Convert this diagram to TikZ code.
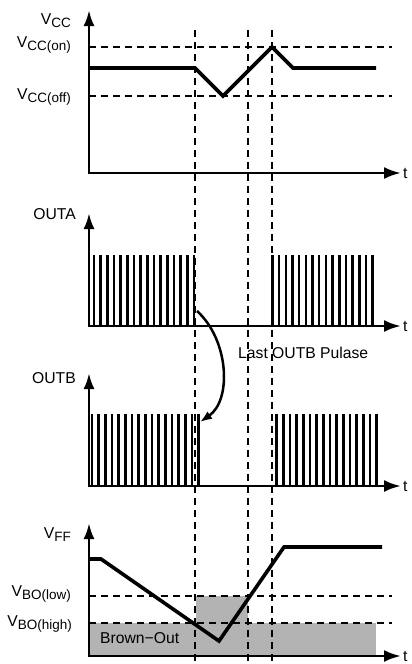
\documentclass[tikz,border=0pt]{standalone}
\usepackage{fontspec}
\setmainfont{Liberation Sans}
\usetikzlibrary{arrows.meta,positioning}
\definecolor{ink}{RGB}{0,0,0}
\definecolor{bogray}{RGB}{179,179,179}
\newcommand{\lowtext}[1]{\raisebox{-3pt}{\fontsize{13.5}{13.5}\selectfont #1}}
\tikzset{
  every picture/.style={color=ink, font=\fontsize{15.7}{18}\selectfont},
  axis/.style={{Latex[length=16pt,width=11pt]}-{Latex[length=17pt,width=12pt]}, line width=2.8pt},
  wave/.style={line width=3.6pt},
  pulse/.style={line width=2.6pt},
  guide/.style={line width=2.5pt, dash pattern=on 7pt off 5pt},
  hint/.style={-{Latex[length=12pt,width=9pt]}, line width=2.5pt},
  lbl/.style={anchor=base east, inner sep=0pt},
  tlbl/.style={anchor=west, inner sep=0pt},
  note/.style={anchor=base west, inner sep=0pt},
}
\begin{document}
\begin{tikzpicture}[x=1pt, y=-1pt]
  \useasboundingbox (0,0) rectangle (412,664);
  % brown-out area
  \fill[bogray] (89,623) rectangle (376,656);
  \fill[bogray] (196,596) rectangle (248,623);
  \node[note] (bo) at (100,643) {Brown−Out};
  % VCC
  \coordinate (o1) at (89,173); \coordinate (y1) at (89,10); \coordinate (x1) at (401,173);
  \draw[axis] (y1) -- (o1) -- (x1);
  \node[lbl] (vcc) at (71,24) {V\lowtext{CC}};
  \node[lbl] (vccon) at (71,47) {V\lowtext{CC(on)}};
  \node[lbl] (vccoff) at (71,99) {V\lowtext{CC(off)}};
  \node[tlbl] (t1) at (403,173) {t};
  \draw[guide] (89,47) -- (392,47);
  \draw[guide] (89,96) -- (392,96);
  \draw[wave] (89,68) -- (195,68) -- (223,96) -- (272,47) -- (293,68) -- (376,68);
  % OUTA
  \coordinate (o2) at (89,326); \coordinate (y2) at (89,213); \coordinate (x2) at (401,326);
  \draw[axis] (y2) -- (o2) -- (x2);
  \node[lbl] (outa) at (76,219) {OUTA};
  \node[tlbl] (t2) at (403,326) {t};
  \foreach \i in {0,...,15} {
    \draw[pulse] ({94+\i*6.67},326) -- ({94+\i*6.67},255);
    \draw[pulse] ({272.5+\i*6.67},326) -- ({272.5+\i*6.67},255);
  }
  % OUTB
  \coordinate (o3) at (89,486); \coordinate (y3) at (89,373); \coordinate (x3) at (401,486);
  \draw[axis] (y3) -- (o3) -- (x3);
  \node[lbl] (outb) at (76,383) {OUTB};
  \node[tlbl] (t3) at (403,486) {t};
  \foreach \i in {0,...,16} { \draw[pulse] ({92+\i*6.67},486) -- ({92+\i*6.67},414); }
  \foreach \i in {0,...,15} { \draw[pulse] ({276.7+\i*6.67},486) -- ({276.7+\i*6.67},414); }
  % last pulse
  \coordinate (lastA) at (197,311); \coordinate (lastB) at (200,422);
  \draw[hint] (lastA) .. controls (229,340) and (232,400) .. (lastB);
  \node[note] (lastlbl) at (238,358) {Last OUTB Pulase};
  % VFF
  \coordinate (o4) at (89,656); \coordinate (y4) at (89,523); \coordinate (x4) at (401,656);
  \draw[axis] (y4) -- (o4) -- (x4);
  \node[lbl] (vff) at (71,538) {V\lowtext{FF}};
  \node[lbl] (vbolow) at (71,596) {V\lowtext{BO(low)}};
  \node[lbl] (vbohigh) at (72,626) {V\lowtext{BO(high)}};
  \node[tlbl] (t4) at (403,656) {t};
  \draw[guide] (89,596) -- (392,596);
  \draw[guide] (89,623) -- (392,623);
  \draw[wave] (89,559) -- (101,559) -- (219,641) -- (284,547) -- (382,547);
  % events
  \foreach \x/\n in {195/a,248/b,272/c} {
    \coordinate (top\n) at (\x,30); \coordinate (bot\n) at (\x,664);
    \draw[guide] (top\n) -- (bot\n);
  }
\end{tikzpicture}
\end{document}
